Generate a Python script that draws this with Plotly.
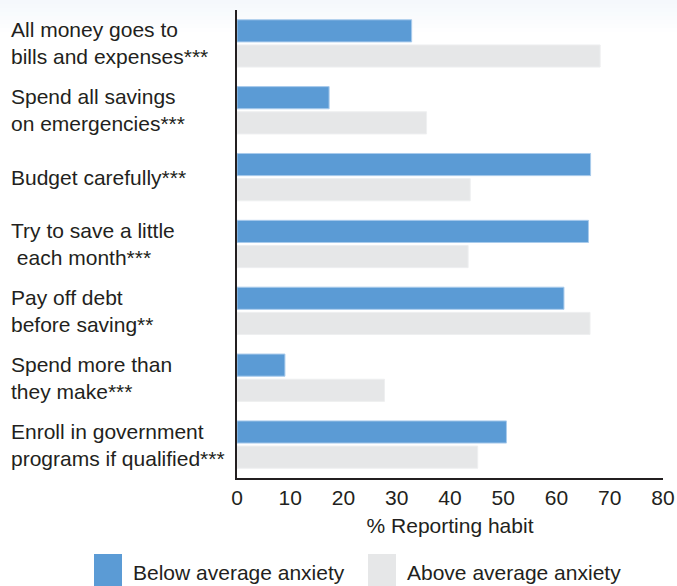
import plotly.graph_objects as go

categories = [
    "All money goes to<br>bills and expenses***",
    "Spend all savings<br>on emergencies***",
    "Budget carefully***",
    "Try to save a little<br>\u00a0each month***",
    "Pay off debt<br>before saving**",
    "Spend more than<br>they make***",
    "Enroll in government<br>programs if qualified***",
]
below_avg = [32.8, 17.3, 66.4, 66.0, 61.4, 9.0, 50.6]
above_avg = [68.2, 35.6, 43.8, 43.4, 66.3, 27.7, 45.2]
series_names = ["Below average anxiety", "Above average anxiety"]
x_ticks = [0, 10, 20, 30, 40, 50, 60, 70, 80]

BLUE = "#5B9BD5"
GREY = "#E6E7E8"
TXT = "#231F20"
FONT = "Liberation Sans, Arial, sans-serif"

W, H = 677, 586
L, R, T, B = 237, 14, 10, 108
PW, PH = W - L - R, H - T - B

def px_x(p):
    return (p - L) / PW

def px_y(p):
    return (H - B - p) / PH

fig = go.Figure()
fig.add_trace(go.Bar(
    y=categories, x=below_avg, orientation="h", name=series_names[0],
    marker=dict(color=BLUE, line=dict(color="#A9CBEC", width=1)),
    showlegend=False,
))
fig.add_trace(go.Bar(
    y=categories, x=above_avg, orientation="h", name=series_names[1],
    marker=dict(color=GREY, line=dict(color="#EEEFF0", width=1)),
    showlegend=False,
))

annotations = []
for c in categories:
    annotations.append(dict(
        x=0, xref="paper", y=c, yref="y", xshift=-(L - 9), xanchor="left",
        text=c, showarrow=False, align="left",
        font=dict(family=FONT, size=21, color=TXT),
    ))

shapes = []
# faint top gradient
for i in range(8):
    shapes.append(dict(
        type="rect", xref="paper", yref="paper", layer="below",
        x0=px_x(0), x1=px_x(W), y0=px_y(4 * (i + 1)), y1=px_y(4 * i),
        fillcolor=f"rgba(225,235,246,{0.35 * (1 - i / 8):.3f})", line=dict(width=0),
    ))
# custom legend with large swatches
legend_items = [(94, 122, 131, BLUE, series_names[0]), (368, 396, 405, GREY, series_names[1])]
for x0, x1, tx, col, name in legend_items:
    shapes.append(dict(
        type="rect", xref="paper", yref="paper",
        x0=px_x(x0), x1=px_x(x1), y0=px_y(592), y1=px_y(554),
        fillcolor=col, line=dict(width=0),
    ))
    annotations.append(dict(
        x=px_x(tx), xref="paper", y=px_y(572), yref="paper", xanchor="left", yanchor="middle",
        text=name, showarrow=False,
        font=dict(family=FONT, size=21, color=TXT),
    ))

fig.update_layout(
    width=W, height=H,
    margin=dict(l=L, r=R, t=T, b=B, pad=0, autoexpand=False),
    paper_bgcolor="white", plot_bgcolor="rgba(0,0,0,0)",
    barmode="group", bargap=0.247, bargroupgap=0.12,
    font=dict(family=FONT, size=21, color=TXT),
    annotations=annotations, shapes=shapes,
    xaxis=dict(
        range=[0, 80], tickvals=x_ticks, showgrid=False, zeroline=False,
        showline=True, linecolor=TXT, linewidth=2, ticks="", automargin=False,
        tickfont=dict(family=FONT, size=21, color=TXT),
        title=dict(text="% Reporting habit", font=dict(family=FONT, size=21, color=TXT), standoff=10),
    ),
    yaxis=dict(
        autorange="reversed", showticklabels=False, showgrid=False, zeroline=False,
        showline=True, linecolor=TXT, linewidth=2, ticks="", automargin=False,
    ),
)

fig.write_html(
    "out.html",
    config={"displayModeBar": False},
    post_script="document.body.style.margin='0';document.body.style.overflow='hidden';",
)
